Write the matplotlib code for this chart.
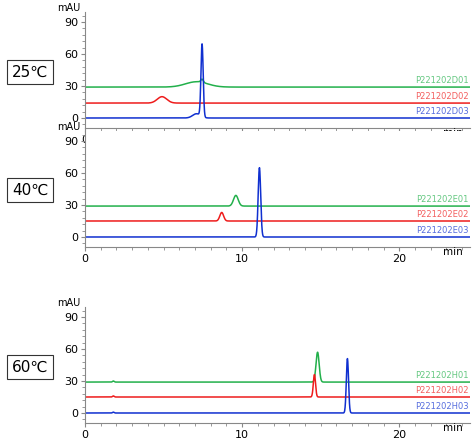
import numpy as np
import matplotlib.pyplot as plt
from matplotlib.ticker import MultipleLocator

temps = ["25℃", "40℃", "60℃"]
names = [["P221202D01", "P221202D02", "P221202D03"],
         ["P221202E01", "P221202E02", "P221202E03"],
         ["P221202H01", "P221202H02", "P221202H03"]]
colors = ["#22b04b", "#ee1c1c", "#1030d0"]
baselines = [[29, 14, 0], [29, 15, 0], [29, 15, 0]]
# peaks: (retention time min, height above baseline mAU, width sigma min)
peaks = [
    [[(7.1, 5, 0.7), (7.45, 3, 0.08)], [(4.9, 6, 0.3)], [(7.45, 68, 0.07), (7.1, 4, 0.25)]],
    [[(9.6, 10, 0.15)], [(8.7, 8, 0.12)], [(11.1, 65, 0.08)]],
    [[(14.8, 28, 0.1), (1.8, 1, 0.05)], [(14.6, 21, 0.07), (1.8, 1, 0.05)], [(16.7, 51, 0.07), (1.8, 0.8, 0.05)]],
]

t = np.linspace(0, 24.5, 3000)
fig = plt.figure(figsize=(4.74, 4.40), dpi=100)
zero_px = [118, 237, 413]
label_y = [72, 190, 367]
ppu = 96 / 90.0
for i in range(3):
    z = zero_px[i]
    top = z - 99 * ppu
    bot = z + 9 * ppu
    ax = fig.add_axes([85/474, 1-bot/440, 385/474, (bot-top)/440])
    for j in range(3):
        y = np.full_like(t, baselines[i][j], dtype=float)
        for (rt, h, s) in peaks[i][j]:
            y = y + h*np.exp(-0.5*((t-rt)/s)**2)
        ax.plot(t, y, color=colors[j], lw=1.1)
        ax.text(24.4, baselines[i][j]+1.5, names[i][j], color=colors[j], fontsize=6,
                ha="right", va="bottom", alpha=0.7)
    ax.set_xlim(0, 24.5)
    ax.set_ylim(-9, 99)
    for s in ["top", "right"]:
        ax.spines[s].set_visible(False)
    for s in ["left", "bottom"]:
        ax.spines[s].set_color("#888888")
    ax.set_xticks([0, 10, 20])
    ax.set_yticks([0, 30, 60, 90])
    ax.xaxis.set_minor_locator(MultipleLocator(1))
    ax.yaxis.set_minor_locator(MultipleLocator(6))
    ax.tick_params(labelsize=8, colors="#888888", labelcolor="black", length=3, pad=2)
    ax.tick_params(which="minor", colors="#888888", length=2)
    ax.text(22.8, -9, "min", fontsize=7.5, ha="left", va="top")
    ax.text(-0.3, 98, "mAU", fontsize=7, ha="right", va="bottom")
    fig.text(30/474, 1-label_y[i]/440, temps[i], fontsize=11, ha="center", va="center",
             bbox=dict(boxstyle="square,pad=0.3", fc="white", ec="#333333", lw=0.8))
fig.savefig("out.png", dpi=100)
